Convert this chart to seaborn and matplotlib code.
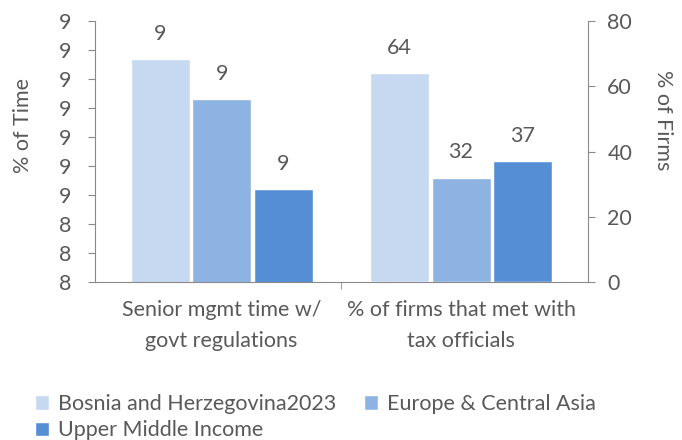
import numpy as np
import pandas as pd
import seaborn as sns
import matplotlib.pyplot as plt
from matplotlib.ticker import FixedLocator, FuncFormatter

# chart data
categories = ["Senior mgmt time w/\ngovt regulations", "% of firms that met with\ntax officials"]
economies = ["Bosnia and Herzegovina2023", "Europe & Central Asia", "Upper Middle Income"]
time_values = [8.97, 8.83, 8.52]
firm_values = [64, 32, 37]
time_ticks = [8.2, 8.3, 8.4, 8.5, 8.6, 8.7, 8.8, 8.9, 9.0, 9.1]
firm_ticks = [0, 20, 40, 60, 80]

colors = ["#C6D9F1", "#8DB3E2", "#558ED5"]
grey = "#595959"
axis_grey = "#898989"
fs = 15.5

df_time = pd.DataFrame({"indicator": categories[0], "economy": economies, "value": time_values})
df_firm = pd.DataFrame({"indicator": categories[1], "economy": economies, "value": firm_values})

sns.set_style("white")
plt.rcParams['font.family'] = ['Lato', 'DejaVu Sans']


def excel_round(v, pos=None):
    # Excel rounds halves up, 8.5 -> 9
    return f"{int(np.floor(round(v, 6) + 0.5))}"


fig = plt.figure(figsize=(6.82, 4.4), dpi=100)
ax1 = fig.add_axes([0.139, 0.359, 0.723, 0.593])
ax2 = ax1.twinx()

sns.barplot(data=df_time, x="indicator", y="value", hue="economy", order=categories,
            hue_order=economies, palette=colors, width=0.77, gap=0.04,
            saturation=1, legend=False, ax=ax1)
sns.barplot(data=df_firm, x="indicator", y="value", hue="economy", order=categories,
            hue_order=economies, palette=colors, width=0.77, gap=0.04,
            saturation=1, legend=False, ax=ax2)

ax1.set_xlim(-0.53, 1.53)
ax1.set_ylim(8.2, 9.1)
ax2.set_ylim(0, 80)

ax1.yaxis.set_major_locator(FixedLocator(time_ticks))
ax1.yaxis.set_major_formatter(FuncFormatter(excel_round))
ax2.yaxis.set_major_locator(FixedLocator(firm_ticks))

for c in ax1.containers:
    ax1.bar_label(c, fmt=excel_round, padding=11, fontsize=fs, color=grey)
for c in ax2.containers:
    ax2.bar_label(c, fmt=excel_round, padding=11, fontsize=fs, color=grey)

for ax in (ax1, ax2):
    ax.spines["top"].set_visible(False)
    for s in ax.spines.values():
        s.set_color(axis_grey)
ax1.spines["right"].set_visible(False)
ax2.spines["left"].set_visible(False)
ax2.spines["bottom"].set_visible(False)

ax1.tick_params(axis="y", colors=axis_grey, labelcolor=grey, labelsize=fs,
                length=5, direction="out", pad=12, left=True)
ax2.tick_params(axis="y", colors=axis_grey, labelcolor=grey, labelsize=fs,
                length=5, direction="out", pad=9, right=True)
ax1.tick_params(axis="x", which="major", length=0, pad=13, labelsize=fs, labelcolor=grey)
for lbl in ax1.get_xticklabels():
    lbl.set_linespacing(1.7)
ax1.xaxis.set_minor_locator(FixedLocator([0.5]))
ax1.tick_params(axis="x", which="minor", length=5, color=axis_grey, bottom=True)

ax1.set_xlabel("")
ax1.set_ylabel("% of Time", fontsize=fs, color=grey)
ax2.set_ylabel("% of Firms", fontsize=fs, color=grey, rotation=270)
ax1.yaxis.set_label_coords(-0.125, 0.6)
ax2.yaxis.set_label_coords(1.152, 0.62)
ax2.yaxis.label.set_va("center")

# row-wise order like the original legend
order = [0, 2, 1]
fig.legend(handles=[ax1.containers[i] for i in order], labels=[economies[i] for i in order],
           ncol=2, loc="center left", bbox_to_anchor=(0.052, 0.052), frameon=False,
           fontsize=fs, labelcolor=grey, handlelength=0.65, handleheight=0.65,
           handletextpad=0.4, columnspacing=1.3, labelspacing=0.3,
           borderaxespad=0, borderpad=0)

fig.savefig("out.png", dpi=100)
